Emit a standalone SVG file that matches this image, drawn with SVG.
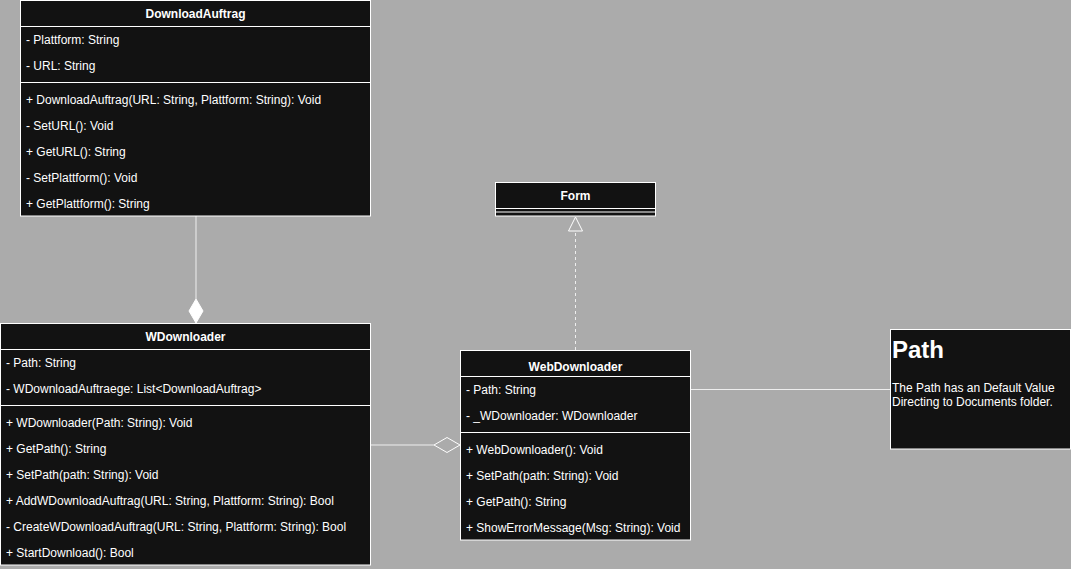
<svg xmlns="http://www.w3.org/2000/svg" width="1071" height="569" viewBox="0 0 1071 569">
<style>
.box{fill:#121212;stroke:#ffffff;stroke-width:1}
.sep{stroke:#ffffff;stroke-width:1;fill:none}
text{font-family:"Liberation Sans",Arial,sans-serif;font-size:12px;fill:#ffffff}
.h{font-weight:bold;text-anchor:middle}
.conn{stroke:#eeeeee;stroke-width:1;fill:none}
</style>
<rect x="0" y="0" width="1071" height="569" fill="#ababab"/>
<g id="connectors">
<line class="conn" x1="196" y1="216" x2="196" y2="299"/>
<polygon points="196,299 203,311 196,323 189,311" fill="#ffffff" stroke="#ffffff"/>
<line class="conn" x1="370.5" y1="445" x2="434" y2="445"/>
<polygon points="434,445 447,437.5 460,445 447,452.5" fill="#ababab" stroke="#ffffff"/>
<line class="conn" x1="575.5" y1="350" x2="575.5" y2="231" stroke-dasharray="3,3"/>
<polygon points="575.5,217 582.5,231 568.5,231" fill="#ababab" stroke="#ffffff"/>
<line class="conn" x1="690.5" y1="389.5" x2="890.5" y2="389.5"/>
</g>
<g id="DownloadAuftrag">
<rect class="box" x="20.5" y="0.5" width="350" height="215.5"/>
<line class="sep" x1="20.5" y1="26.5" x2="370.5" y2="26.5"/>
<line class="sep" x1="20.5" y1="82.5" x2="370.5" y2="82.5"/>
<text class="h" x="195.5" y="18">DownloadAuftrag</text>
<text x="26" y="44">- Plattform: String</text>
<text x="26" y="70">- URL: String</text>
<text x="26" y="104">+ DownloadAuftrag(URL: String, Plattform: String): Void</text>
<text x="26" y="130">- SetURL(): Void</text>
<text x="26" y="156">+ GetURL(): String</text>
<text x="26" y="182">- SetPlattform(): Void</text>
<text x="26" y="208">+ GetPlattform(): String</text>
</g>
<g id="WDownloader">
<rect class="box" x="0.5" y="323.5" width="370" height="241.5"/>
<line class="sep" x1="0.5" y1="349.5" x2="370.5" y2="349.5"/>
<line class="sep" x1="0.5" y1="405.5" x2="370.5" y2="405.5"/>
<text class="h" x="185.5" y="341">WDownloader</text>
<text x="6" y="367">- Path: String</text>
<text x="6" y="393">- WDownloadAuftraege: List&lt;DownloadAuftrag&gt;</text>
<text x="6" y="427">+ WDownloader(Path: String): Void</text>
<text x="6" y="453">+ GetPath(): String</text>
<text x="6" y="479">+ SetPath(path: String): Void</text>
<text x="6" y="505">+ AddWDownloadAuftrag(URL: String, Plattform: String): Bool</text>
<text x="6" y="531">- CreateWDownloadAuftrag(URL: String, Plattform: String): Bool</text>
<text x="6" y="557">+ StartDownload(): Bool</text>
</g>
<g id="Form">
<rect class="box" x="495.5" y="182.5" width="160" height="33.5"/>
<line class="sep" x1="495.5" y1="208.5" x2="655.5" y2="208.5"/>
<line class="sep" x1="495.5" y1="212" x2="655.5" y2="212"/>
<text class="h" x="575.5" y="199.5">Form</text>
</g>
<g id="WebDownloader">
<rect class="box" x="460.5" y="350.5" width="230" height="189.5"/>
<line class="sep" x1="460.5" y1="376.5" x2="690.5" y2="376.5"/>
<line class="sep" x1="460.5" y1="432.5" x2="690.5" y2="432.5"/>
<text class="h" x="575.5" y="370.5">WebDownloader</text>
<text x="466" y="394">- Path: String</text>
<text x="466" y="420">- _WDownloader: WDownloader</text>
<text x="466" y="453.5">+ WebDownloader(): Void</text>
<text x="466" y="479.5">+ SetPath(path: String): Void</text>
<text x="466" y="505.5">+ GetPath(): String</text>
<text x="466" y="531.5">+ ShowErrorMessage(Msg: String): Void</text>
</g>
<g id="PathNote">
<rect class="box" x="890.5" y="329.5" width="180" height="119.5"/>
<text x="892" y="357.5" style="font-size:24px;font-weight:bold">Path</text>
<text x="892" y="392">The Path has an Default Value</text>
<text x="892" y="405.5">Directing to Documents folder.</text>
</g>
</svg>
